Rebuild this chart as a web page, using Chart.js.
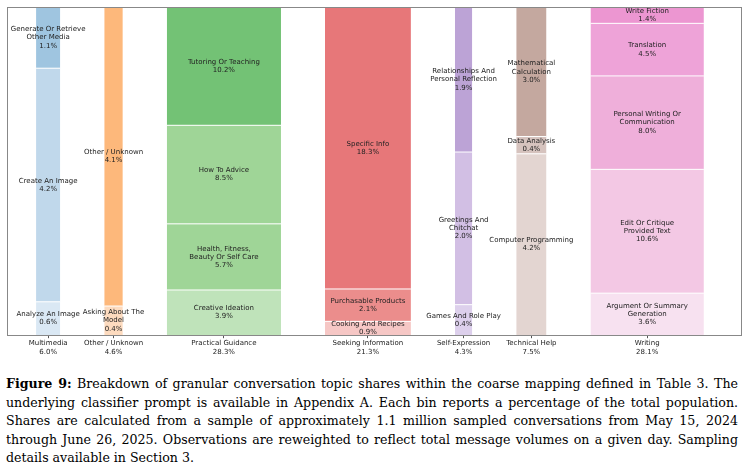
<!DOCTYPE html>
<html><head><meta charset="utf-8">
<script src="https://cdn.jsdelivr.net/npm/chart.js@4/dist/chart.umd.min.js"></script>
<style>
body{margin:0;background:#fff;width:746px;}
#wrap{width:746px;height:357px;position:relative;}
#cap{font-family:"DejaVu Serif","Liberation Serif",serif;font-size:12.6px;line-height:18.5px;color:#000;margin:18px 8px 0 6px;text-align:justify;}
</style></head><body>
<div id="wrap"><canvas id="c"></canvas></div>
<div id="cap"><b>Figure 9:</b> Breakdown of granular conversation topic shares within the coarse mapping defined in Table 3. The underlying classifier prompt is available in Appendix A. Each bin reports a percentage of the total population. Shares are calculated from a sample of approximately 1.1 million sampled conversations from May 15, 2024 through June 26, 2025. Observations are reweighted to reflect total message volumes on a given day. Sampling details available in Section 3.</div>
<script>
const categories = ["Multimedia","Other / Unknown","Practical Guidance","Seeking Information","Self-Expression","Technical Help","Writing"];
const categoryShares = [6.0,4.6,28.3,21.3,4.3,7.5,28.1];
// segments bottom -> top
const segLabels = [
 ["Analyze An Image","Create An Image","Generate Or Retrieve\nOther Media"],
 ["Asking About The\nModel","Other / Unknown"],
 ["Creative Ideation","Health, Fitness,\nBeauty Or Self Care","How To Advice","Tutoring Or Teaching"],
 ["Cooking And Recipes","Purchasable Products","Specific Info"],
 ["Games And Role Play","Greetings And\nChitchat","Relationships And\nPersonal Reflection"],
 ["Computer Programming","Data Analysis","Mathematical\nCalculation"],
 ["Argument Or Summary\nGeneration","Edit Or Critique\nProvided Text","Personal Writing Or\nCommunication","Translation","Write Fiction"]
];
const segValues = [
 [0.6,4.2,1.1],
 [0.4,4.1],
 [3.9,5.7,8.5,10.2],
 [0.9,2.1,18.3],
 [0.4,2.0,1.9],
 [4.2,0.4,3.0],
 [3.6,10.6,8.0,4.5,1.4]
];
const segColors = [
 ["#dae8f4","#c0d8eb","#9fc5e0"],
 ["#fddbbf","#fdb87b"],
 ["#bfe3ba","#9fd597","#9fd597","#73c275"],
 ["#f6c7c5","#eb8d8c","#e77779"],
 ["#ddd0ec","#d2bfe4","#bca3d6"],
 ["#e3d5d1","#d6c3be","#c4a89f"],
 ["#f7e1f0","#f3c8e4","#efafda","#eea3d8","#ec96d1"]
];
const GAP = 10.9, LEFT = 7.2, RIGHT = 9.2;

const starts = []; let pos = 0;
categoryShares.forEach((w,i)=>{ starts.push(pos); pos += w + GAP; });
const xMax = pos - GAP + RIGHT;
const centers = starts.map((s,i)=>s+categoryShares[i]/2);

const datasets = []; const labelInfo = [];
segValues.forEach((vals,ci)=>{
  const tot = vals.reduce((a,b)=>a+b,0);
  let lo = 0;
  vals.forEach((v,si)=>{
    const hi = lo + v/tot*100;
    const x0 = starts[ci], x1 = starts[ci]+categoryShares[ci];
    datasets.push({data:[{x:x0,y:hi},{x:x1,y:hi}],fill:{value:lo},backgroundColor:segColors[ci][si],
      borderColor:'#ffffff',borderWidth:1,pointRadius:0,tension:0});
    labelInfo.push({x:centers[ci],y:(lo+hi)/2,text:segLabels[ci][si].split("\n").concat([v.toFixed(1)+"%"])});
    lo = hi;
  });
});

const labelPlugin = {
  id:'lbl',
  afterDatasetsDraw(chart){
    const {ctx,chartArea:a,scales:{x,y}} = chart;
    ctx.save();
    ctx.font = '7px "DejaVu Sans"'; ctx.fillStyle='#222'; ctx.textAlign='center'; ctx.textBaseline='middle';
    labelInfo.forEach(l=>{
      const px = x.getPixelForValue(l.x), py = y.getPixelForValue(l.y);
      const n = l.text.length, lh = 8.2;
      l.text.forEach((t,i)=>ctx.fillText(t,px,py+(i-(n-1)/2)*lh));
    });
    ctx.strokeStyle='#888'; ctx.lineWidth=1;
    ctx.strokeRect(Math.round(a.left)+0.5,Math.round(a.top)+0.5,Math.round(a.right-a.left),Math.round(a.bottom-a.top));
    ctx.restore();
  }
};

new Chart(document.getElementById('c'),{
  type:'line',
  data:{datasets},
  options:{
    responsive:true,maintainAspectRatio:false,animation:false,
    layout:{padding:{left:7,right:5,top:7,bottom:0}},
    plugins:{legend:{display:false},tooltip:{enabled:false}},
    scales:{
      x:{type:'linear',min:-LEFT,max:xMax,
        afterBuildTicks(s){ s.ticks = centers.map(v=>({value:v})); },
        ticks:{autoSkip:false,maxRotation:0,color:'#222',font:{family:'DejaVu Sans',size:7},padding:1,
          callback:(v,i)=>[categories[i],categoryShares[i].toFixed(1)+"%"]},
        grid:{drawOnChartArea:false,drawTicks:true,tickLength:3,color:'#555'},
        border:{display:false}},
      y:{min:0,max:100,display:false}
    }
  },
  plugins:[labelPlugin]
});
</script></body></html>
